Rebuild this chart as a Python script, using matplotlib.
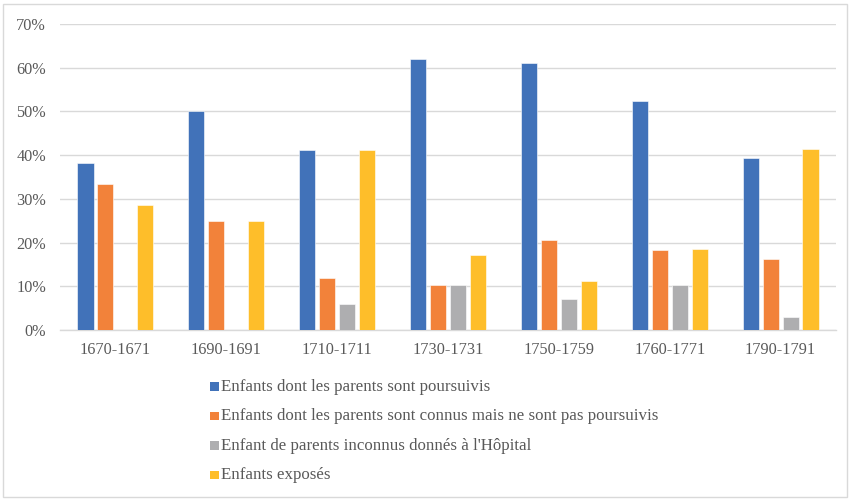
import matplotlib
matplotlib.use("Agg")
import matplotlib.pyplot as plt
from matplotlib.patches import Rectangle
from matplotlib.ticker import FuncFormatter
import numpy as np

categories = ["1670-1671", "1690-1691", "1710-1711", "1730-1731", "1750-1759", "1760-1771", "1790-1791"]
series_names = [
    "Enfants dont les parents sont poursuivis",
    "Enfants dont les parents sont connus mais ne sont pas poursuivis",
    "Enfant de parents inconnus donnés à l'Hôpital",
    "Enfants exposés",
]
poursuivis = [38.1, 50.0, 41.2, 62.0, 61.0, 52.5, 39.3]
connus = [33.3, 25.0, 11.8, 10.3, 20.6, 18.4, 16.2]
inconnus = [0.0, 0.0, 5.9, 10.3, 7.0, 10.2, 2.9]
exposes = [28.6, 25.0, 41.2, 17.2, 11.1, 18.6, 41.3]
colors = ["#4172B9", "#F2823A", "#AEAEB0", "#FEBE2A"]
yticks = [0, 10, 20, 30, 40, 50, 60, 70]

W, H = 850, 499
fig = plt.figure(figsize=(W / 100, H / 100), dpi=100)
plt.rcParams["font.family"] = ["Liberation Serif", "DejaVu Serif"]
txt_color = "#595959"

ax = fig.add_axes([60 / W, 1 - 330 / H, (836 - 60) / W, (330 - 24) / H])
x = np.arange(len(categories))
slot = 0.18
bw = 0.145
for i, (vals, c) in enumerate(zip([poursuivis, connus, inconnus, exposes], colors)):
    ax.bar(x + (i - 1.5) * slot, vals, width=bw, color=c, edgecolor="white", linewidth=0.4, zorder=3)

ax.set_xlim(-0.5, len(categories) - 0.5)
ax.set_ylim(0, 70)
ax.set_yticks(yticks)
ax.yaxis.set_major_formatter(FuncFormatter(lambda v, p: f"{int(v)}%"))
ax.set_xticks(x)
ax.set_xticklabels(categories)
ax.grid(axis="y", color="#D9D9D9", linewidth=1.0, zorder=0)
for s in ["top", "right", "left"]:
    ax.spines[s].set_visible(False)
ax.spines["bottom"].set_color("#D9D9D9")
ax.spines["bottom"].set_linewidth(1.0)
ax.tick_params(axis="both", length=0, labelsize=11.7, colors=txt_color)
ax.tick_params(axis="x", pad=9)
ax.tick_params(axis="y", pad=10)

# legend drawn as figure elements
rows_y = [386.7, 416.2, 445.8, 475.3]
for name, c, yy in zip(series_names, colors, rows_y):
    fig.patches.append(Rectangle((210 / W, 1 - (yy + 4) / H), 8.5 / W, 8.5 / H,
                                 transform=fig.transFigure, facecolor=c, edgecolor="none"))
    fig.text(221.5 / W, 1 - yy / H, name, ha="left", va="center", fontsize=12.2, color=txt_color)

# outer border
fig.patches.append(Rectangle((3 / W, 2 / H), (W - 6) / W, (H - 6) / H, transform=fig.transFigure,
                             facecolor="none", edgecolor="#D9D9D9", linewidth=1.0))

fig.savefig("out.png", dpi=100)
